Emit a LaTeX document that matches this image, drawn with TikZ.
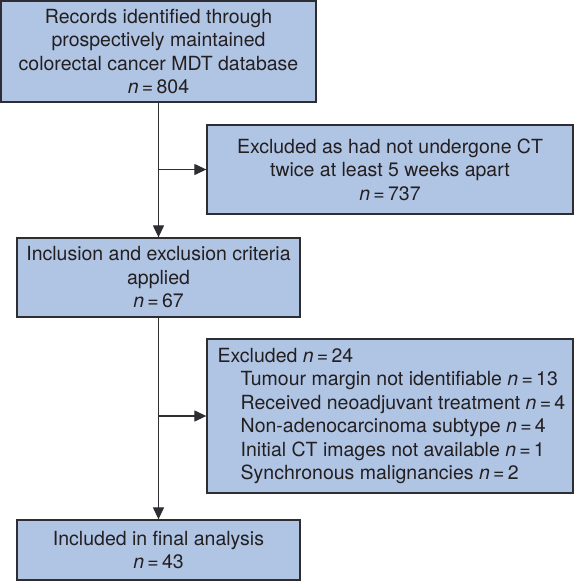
\documentclass[tikz,border=0pt]{standalone}
\usepackage{fontspec}
\setmainfont{TeX Gyre Heros}
\usetikzlibrary{arrows.meta,positioning}
\definecolor{boxfill}{RGB}{176,196,228}
\definecolor{boxline}{RGB}{45,45,50}
\definecolor{txt}{RGB}{35,31,32}

\begin{document}
\begin{tikzpicture}[x=1pt, y=-1pt,
        box/.style={rectangle, draw=boxline, fill=boxfill, line width=1.3pt, inner sep=0pt, align=center, text=txt, font=\fontsize{19.5}{23.5}\selectfont},
        listbox/.style={box, align=left},
        flow/.style={-{Triangle[length=12pt, width=11pt]}, line width=1.2pt, draw=boxline},
    ]
        \useasboundingbox (0,0) rectangle (574,581);
        % main column
        \node[box, minimum width=315pt, minimum height=101pt] (records) at (158.5,51.5) {Records identified through\\prospectively maintained\\colorectal cancer MDT database\\{\itshape n}\,=\,804};
        \node[box, minimum width=283pt, minimum height=79pt] (criteria) at (158.5,277.5) {Inclusion and exclusion criteria\\applied\\{\itshape n}\,=\,67};
        \node[box, minimum width=283pt, minimum height=60pt] (final) at (158.5,550) {Included in final analysis\\{\itshape n}\,=\,43};
        % exclusions
        \node[box, minimum width=366pt, minimum height=89pt] (noct) at (390,169.5) {Excluded as had not undergone CT\\twice at least 5 weeks apart\\{\itshape n}\,=\,737};
        \node[listbox, minimum width=366pt, minimum height=154pt] (excluded) at (390,416) {\hspace*{3pt}Excluded {\itshape n}\,=\,24\\
            \hspace*{26pt}Tumour margin not identifiable {\itshape n}\,=\,13\\
            \hspace*{26pt}Received neoadjuvant treatment {\itshape n}\,=\,4\\
            \hspace*{26pt}Non-adenocarcinoma subtype {\itshape n}\,=\,4\\
            \hspace*{26pt}Initial CT images not available {\itshape n}\,=\,1\\
            \hspace*{26pt}Synchronous malignancies {\itshape n}\,=\,2};
        \coordinate (split1) at (158.5,169.5);
        \coordinate (split2) at (158.5,416);
        \draw[flow] (records) -- (criteria);
        \draw[flow] (criteria) -- (final);
        \draw[flow] (split1) -- (noct);
        \draw[flow] (split2) -- (excluded);
    \end{tikzpicture}
\end{document}
